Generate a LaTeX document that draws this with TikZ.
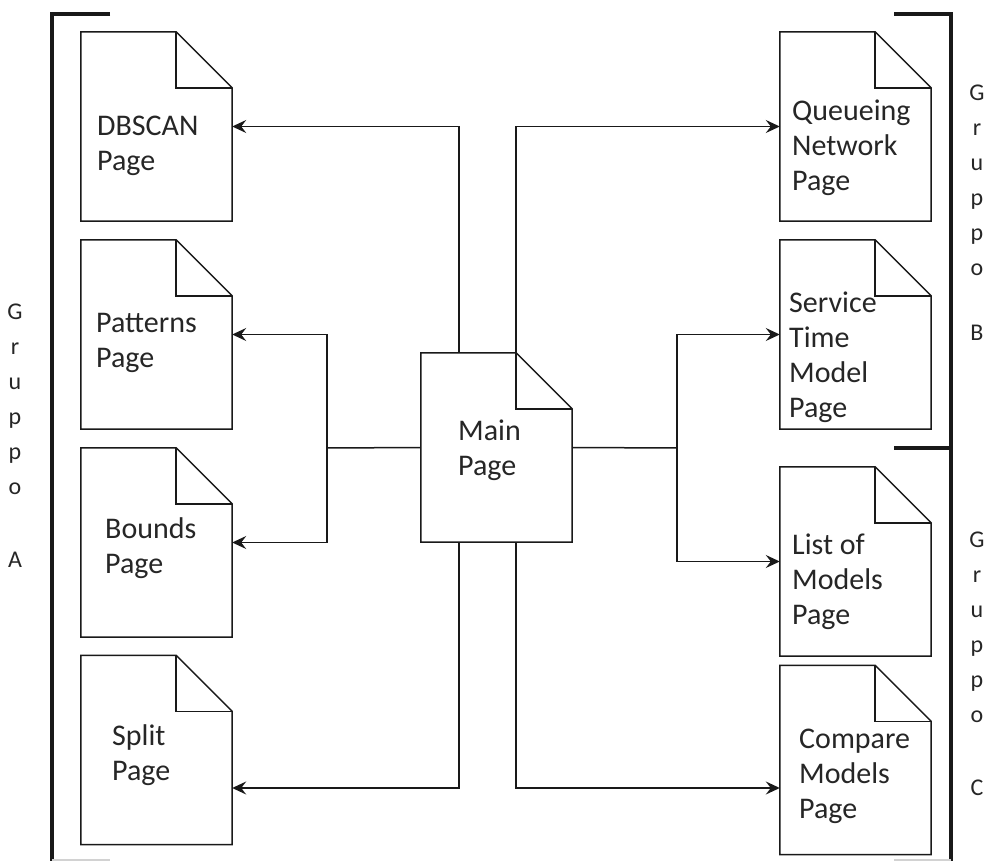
\documentclass[tikz,border=0pt]{standalone}
\usepackage{fontspec}
\setmainfont{Carlito}
\usetikzlibrary{arrows.meta}

\tikzset{
  pagedoc/.style={rectangle,draw=none,inner sep=0pt,minimum width=151pt,minimum height=189pt},
  pageline/.style={line width=1.5pt,black!90},
  pagetext/.style={anchor=west,inner sep=0pt,align=left,font=\fontsize{30}{35}\selectfont,black!85},
  grouplabel/.style={inner sep=0pt,align=center,font=\fontsize{24}{35}\selectfont,black!85},
  link/.style={line width=1.5pt,black!90},
  bracket/.style={line width=3.5pt,black!90}
}

\begin{document}
\begin{tikzpicture}[x=1pt,y=-1pt,>={Stealth[length=14pt,width=13pt,inset=5pt]}]
    \useasboundingbox (0,0) rectangle (994,861);

    % Group brackets
    \draw[bracket] (110,14) -- (52,14) -- (52,861);
    \draw[bracket] (894,14) -- (951,14) -- (951,861);
    \draw[bracket] (894,448) -- (951,448);
    \draw[gray!35,line width=2pt] (52,860) -- (110,860);
    \draw[gray!35,line width=2pt] (894,860) -- (951,860);

    % Pages
    \node[pagedoc] (dbscan) at (156.5,126.5) {};
    \node[pagedoc] (patterns) at (156.5,334.5) {};
    \node[pagedoc] (bounds) at (156.5,542.5) {};
    \node[pagedoc] (split) at (156.5,750) {};
    \node[pagedoc] (main) at (496.5,447.5) {};
    \node[pagedoc] (queueing) at (855.5,126.5) {};
    \node[pagedoc] (service) at (855.5,334.5) {};
    \node[pagedoc] (list) at (855.5,561.5) {};
    \node[pagedoc] (compare) at (855.5,760) {};

    \foreach \p in {dbscan,patterns,bounds,split,main,queueing,service,list,compare}{
        \draw[pageline] (\p.south west) -- (\p.north west) -- ([xshift=-56pt]\p.north east)
            -- ([yshift=-56pt]\p.north east) -- (\p.south east) -- cycle;
        \draw[pageline] ([xshift=-56pt]\p.north east) |- ([yshift=-56pt]\p.north east);
    }

    % Page texts
    \node[pagetext] (dbscantext) at (97,145.5) {DBSCAN\\Page};
    \node[pagetext] (patternstext) at (96,343) {Patterns\\Page};
    \node[pagetext] (boundstext) at (105,548) {Bounds\\Page};
    \node[pagetext] (splittext) at (112,755) {Split\\Page};
    \node[pagetext] (maintext) at (458,450.5) {Main\\Page};
    \node[pagetext] (queueingtext) at (792,148) {Queueing\\Network\\Page};
    \node[pagetext] (servicetext) at (789,357.5) {Service\\Time\\Model\\Page};
    \node[pagetext] (listtext) at (792,582) {List of\\Models\\Page};
    \node[pagetext] (comparetext) at (799,776) {Compare\\Models\\Page};

    % Group labels
    \node[grouplabel] (grpA) at (15,436) {G\\r\\u\\p\\p\\o\\[38pt]A};
    \node[grouplabel] (grpB) at (977,213) {G\\r\\u\\p\\p\\o\\[30pt]B};
    \node[grouplabel] (grpC) at (977,663.5) {G\\r\\u\\p\\p\\o\\[38pt]C};

    % Links from the main page
    \coordinate (hubL) at (327,448);
    \coordinate (hubR) at (677,448);
    \draw[link] (main.west) -- (hubL);
    \draw[link,->] (hubL) |- (patterns.east);
    \draw[link,->] (hubL) |- (bounds.east);
    \draw[link] (main.east) -- (hubR);
    \draw[link,->] (hubR) |- (service.west);
    \draw[link,->] (hubR) |- (list.west);
    \draw[link,->] ([xshift=38pt]main.north west) |- (dbscan.east);
    \draw[link,->] ([xshift=-56pt]main.north east) |- (queueing.west);
    \draw[link,->] ([xshift=38pt]main.south west) |- ([yshift=-38pt]split.east);
    \draw[link,->] ([xshift=-56pt]main.south east) |- ([yshift=-28pt]compare.west);
\end{tikzpicture}
\end{document}
